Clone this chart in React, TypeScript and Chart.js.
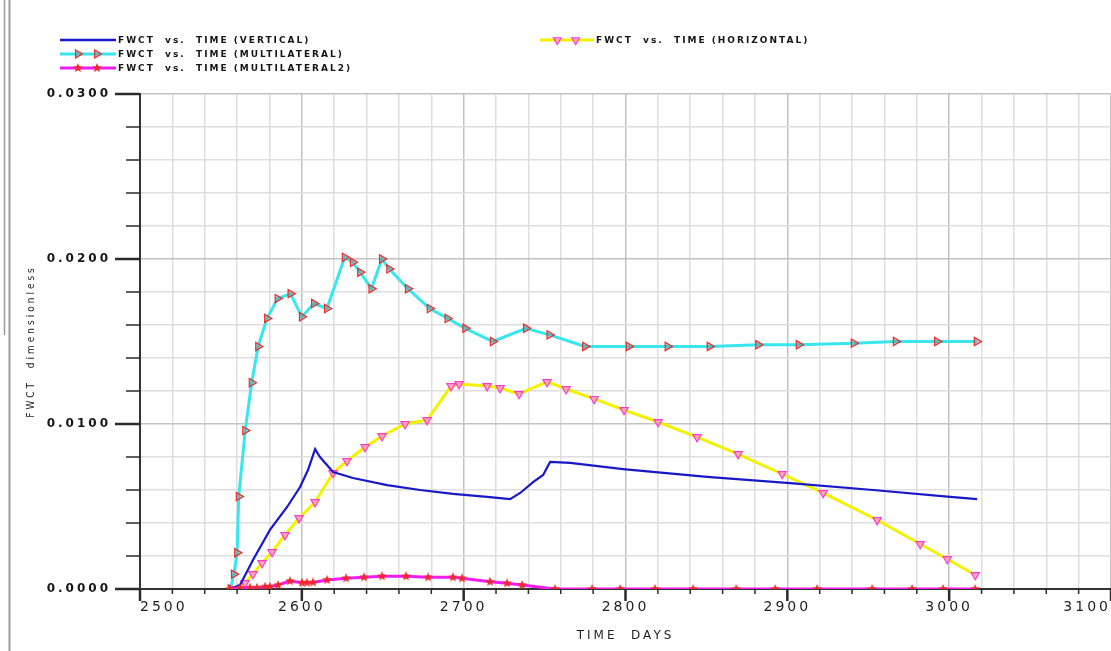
import React, { useEffect, useRef } from 'react';
import { Chart, registerables } from 'chart.js';

Chart.register(...registerables);

// ---- data ----
const seriesLabels = [
  'FWCT  vs.  TIME (VERTICAL)',
  'FWCT  vs.  TIME (MULTILATERAL)',
  'FWCT  vs.  TIME (MULTILATERAL2)',
  'FWCT  vs.  TIME (HORIZONTAL)',
];

const verticalDays = [2555.6, 2561.8, 2569.8, 2580.3, 2590.9, 2598.9, 2603.8, 2608.2, 2611.2, 2619.3, 2631.6, 2652.7, 2673.1, 2693.4, 2714.5, 2728.7, 2734.9, 2742.9, 2749.1, 2753.4, 2765.8, 2798.5, 2850.4, 2901.7, 2953, 3000.6, 3017.3];
const verticalFwct = [0, 0.00024, 0.00176, 0.00358, 0.00497, 0.00618, 0.00721, 0.00848, 0.008, 0.00709, 0.00673, 0.0063, 0.006, 0.00576, 0.00558, 0.00545, 0.00582, 0.00648, 0.00691, 0.0077, 0.00764, 0.00727, 0.00679, 0.00642, 0.006, 0.00558, 0.00545];

const multilateralDays = [2556, 2558, 2560, 2561, 2565, 2569, 2573, 2578.5, 2585, 2593, 2600, 2607.5, 2615.5, 2626.5, 2631.5, 2636, 2643, 2649.5, 2654, 2665.5, 2679, 2690, 2701, 2718, 2738.5, 2753, 2775, 2802, 2826, 2852, 2882, 2907, 2941, 2967, 2992.5, 3017];
const multilateralFwct = [0.0, 0.0009, 0.0022, 0.0056, 0.0096, 0.0125, 0.0147, 0.0164, 0.0176, 0.0179, 0.0165, 0.0173, 0.017, 0.0201, 0.0198, 0.0192, 0.0182, 0.02, 0.0194, 0.0182, 0.017, 0.0164, 0.0158, 0.015, 0.0158, 0.0154, 0.0147, 0.0147, 0.0147, 0.0147, 0.0148, 0.0148, 0.0149, 0.015, 0.015, 0.015];

const multilateral2Days = [2555.6, 2561.8, 2568, 2572.3, 2577.3, 2580.3, 2585.3, 2592.7, 2600.1, 2603.2, 2606.9, 2615.6, 2627.3, 2638.4, 2649.6, 2664.4, 2678, 2693.4, 2699, 2716.3, 2726.8, 2736.1, 2756.5, 2779.4, 2796.7, 2818.3, 2841.8, 2868.4, 2892.5, 2918.4, 2952.4, 2977.1, 2996.3, 3016.1];
const multilateral2Fwct = [0, 0.00006, 0.00008, 0.00008, 0.00014, 0.00014, 0.00024, 0.00048, 0.00038, 0.00038, 0.0004, 0.00055, 0.00065, 0.00071, 0.00077, 0.00077, 0.00071, 0.00071, 0.00065, 0.00044, 0.00035, 0.00024, 0, 0, 0, 0, 0, 0, 0, 0, 0, 0, 0, 0];

const horizontalDays = [2557.5, 2564.9, 2569.8, 2575.4, 2581.6, 2589.6, 2598.3, 2608.2, 2619.3, 2627.9, 2639.1, 2649.6, 2663.8, 2677.4, 2692.2, 2697.2, 2714.5, 2722.5, 2734.2, 2751.5, 2763.3, 2780.6, 2799.1, 2820.1, 2844.2, 2869.6, 2896.8, 2922.1, 2955.5, 2982.1, 2998.8, 3016.1];
const horizontalFwct = [0, 0.00036, 0.00091, 0.00158, 0.00224, 0.00327, 0.0043, 0.00527, 0.00703, 0.00776, 0.0086, 0.00927, 0.01, 0.01024, 0.0123, 0.01242, 0.0123, 0.01218, 0.01182, 0.01255, 0.01212, 0.01152, 0.01085, 0.01012, 0.00921, 0.00818, 0.00697, 0.00582, 0.00418, 0.00273, 0.00182, 0.00085];

const xTickLabels = ['2500', '2600', '2700', '2800', '2900', '3000', '3100'];
const yTickLabels = ['0.0000', '0.0100', '0.0200', '0.0300'];

const X_MIN = 2500;
const X_MAX = 3100;
const Y_MIN = 0;
const Y_MAX = 0.03;

// ---- styles ----
const BLUE = '#1818c8';
const CYAN = '#38e6ee';
const YELLOW = '#f2f200';
const MAGENTA = '#f01cf0';
const RED = '#ee2a2a';
const PINK = '#ff3cc8';

const toPoints = (xs: number[], ys: number[]) => xs.map((x, i) => ({ x, y: ys[i] }));

function makeStar(size: number, color: string) {
  const c = document.createElement('canvas');
  c.width = size;
  c.height = size;
  const g = c.getContext('2d')!;
  const cx = size / 2, cy = size / 2, R = size / 2, r = R * 0.45;
  g.beginPath();
  for (let i = 0; i < 10; i++) {
    const a = -Math.PI / 2 + (i * Math.PI) / 5;
    const rr = i % 2 === 0 ? R : r;
    const px = cx + rr * Math.cos(a);
    const py = cy + rr * Math.sin(a);
    if (i === 0) g.moveTo(px, py);
    else g.lineTo(px, py);
  }
  g.closePath();
  g.fillStyle = color;
  g.fill();
  return c;
}

const isMajorX = (v: number) => Math.abs(v / 100 - Math.round(v / 100)) < 1e-6;
const isMajorY = (v: number) => Math.abs(v * 100 - Math.round(v * 100)) < 1e-6;

function triPath(ctx: CanvasRenderingContext2D, x: number, y: number, r: number, rotDeg: number) {
  let rad = (rotDeg * Math.PI) / 180;
  ctx.beginPath();
  for (let i = 0; i < 3; i++) {
    const px = x + Math.sin(rad) * r;
    const py = y - Math.cos(rad) * r;
    if (i === 0) ctx.moveTo(px, py);
    else ctx.lineTo(px, py);
    rad += (2 * Math.PI) / 3;
  }
  ctx.closePath();
}

export default function App() {
  const ref = useRef<HTMLCanvasElement | null>(null);

  useEffect(() => {
    if (!ref.current) return;
    const star = makeStar(10, RED);

    const decor = {
      id: 'decor',
      beforeDraw(chart: any) {
        chart.ctx.letterSpacing = '3px';
      },
      afterDraw(chart: any) {
        const ctx: CanvasRenderingContext2D = chart.ctx;
        const xs = chart.scales.x;
        const ys = chart.scales.y;
        const area = chart.chartArea;
        ctx.save();
        (ctx as any).letterSpacing = '0px';

        // tick marks (outside the axes)
        ctx.strokeStyle = '#2a2a2a';
        ys.ticks.forEach((t: any) => {
          const y = ys.getPixelForValue(t.value);
          const major = isMajorY(t.value);
          ctx.lineWidth = major ? 2.5 : 1.5;
          ctx.beginPath();
          ctx.moveTo(area.left - (major ? 25 : 14), y);
          ctx.lineTo(area.left, y);
          ctx.stroke();
        });
        xs.ticks.forEach((t: any) => {
          const x = xs.getPixelForValue(t.value);
          const major = isMajorX(t.value);
          ctx.lineWidth = major ? 2.5 : 1.5;
          ctx.beginPath();
          ctx.moveTo(x, area.bottom);
          ctx.lineTo(x, area.bottom + (major ? 12 : 5));
          ctx.stroke();
        });

        // left frame lines
        ctx.strokeStyle = '#9a9a9a';
        ctx.lineWidth = 2;
        ctx.beginPath();
        ctx.moveTo(9.5, 0);
        ctx.lineTo(9.5, 651);
        ctx.stroke();
        ctx.lineWidth = 1.5;
        ctx.beginPath();
        ctx.moveTo(4.5, 0);
        ctx.lineTo(4.5, 335);
        ctx.stroke();

        // legend
        const drawEntry = (x0: number, x1: number, y: number, color: string, width: number, label: string, marker: string) => {
          ctx.strokeStyle = color;
          ctx.lineWidth = width;
          ctx.beginPath();
          ctx.moveTo(x0, y);
          ctx.lineTo(x1, y);
          ctx.stroke();
          const m1 = x0 + (x1 - x0) * 0.32;
          const m2 = x0 + (x1 - x0) * 0.66;
          [m1, m2].forEach((mx) => {
            if (marker === 'right') {
              triPath(ctx, mx, y, 4.5, 90);
              ctx.fillStyle = 'rgba(120,150,150,0.55)';
              ctx.fill();
              ctx.strokeStyle = RED;
              ctx.lineWidth = 1.2;
              ctx.stroke();
            } else if (marker === 'down') {
              triPath(ctx, mx, y, 4.5, 180);
              ctx.fillStyle = 'rgba(255,150,220,0.75)';
              ctx.fill();
              ctx.strokeStyle = PINK;
              ctx.lineWidth = 1.2;
              ctx.stroke();
            } else if (marker === 'star') {
              ctx.drawImage(star, mx - 5, y - 5);
            }
          });
          ctx.fillStyle = '#151515';
          ctx.font = 'bold 9px "DejaVu Sans", sans-serif';
          (ctx as any).letterSpacing = '2px';
          ctx.textAlign = 'left';
          ctx.textBaseline = 'middle';
          ctx.fillText(label, x1 + 2, y + 0.5);
          (ctx as any).letterSpacing = '0px';
        };
        drawEntry(60, 116, 40, BLUE, 2.5, seriesLabels[0], 'none');
        drawEntry(60, 116, 54, CYAN, 3, seriesLabels[1], 'right');
        drawEntry(60, 116, 68, MAGENTA, 3, seriesLabels[2], 'star');
        drawEntry(540, 594, 40, YELLOW, 3, seriesLabels[3], 'down');

        ctx.restore();
      },
    };

    const chart = new Chart(ref.current, {
      type: 'line',
      data: {
        datasets: [
          {
            label: seriesLabels[2],
            data: toPoints(multilateral2Days, multilateral2Fwct),
            borderColor: MAGENTA,
            borderWidth: 3,
            pointStyle: star as any,
            pointRadius: 5,
            tension: 0,
          },
          {
            label: seriesLabels[0],
            data: toPoints(verticalDays, verticalFwct),
            borderColor: BLUE,
            borderWidth: 2.2,
            pointRadius: 0,
            tension: 0,
          },
          {
            label: seriesLabels[3],
            data: toPoints(horizontalDays, horizontalFwct),
            borderColor: YELLOW,
            borderWidth: 3,
            pointStyle: 'triangle',
            rotation: 180,
            pointRadius: 4.8,
            pointBorderColor: PINK,
            pointBackgroundColor: 'rgba(255,150,220,0.75)',
            pointBorderWidth: 1.2,
            tension: 0,
          },
          {
            label: seriesLabels[1],
            data: toPoints(multilateralDays, multilateralFwct),
            borderColor: CYAN,
            borderWidth: 3,
            pointStyle: 'triangle',
            rotation: 90,
            pointRadius: 4.8,
            pointBorderColor: RED,
            pointBackgroundColor: 'rgba(120,150,150,0.55)',
            pointBorderWidth: 1.2,
            tension: 0,
          },
        ],
      },
      options: {
        animation: false,
        responsive: false,
        maintainAspectRatio: false,
        devicePixelRatio: 1,
        parsing: true,
        layout: { autoPadding: false, padding: { top: 94, left: 0, right: 0, bottom: 0 } },
        plugins: {
          legend: { display: false },
          tooltip: { enabled: false },
          title: { display: false },
        },
        scales: {
          x: {
            type: 'linear',
            min: X_MIN,
            max: X_MAX,
            afterFit: (s: any) => {
              s.height = 62;
              s.paddingLeft = 0;
              s.paddingRight = 0;
            },
            ticks: {
              stepSize: 20,
              autoSkip: false,
              maxRotation: 0,
              minRotation: 0,
              align: 'inner',
              padding: 10,
              color: '#1e1e1e',
              font: { family: '"DejaVu Sans", sans-serif', size: 14 },
              callback: (v: any) => {
                const s = String(Math.round(Number(v)));
                return xTickLabels.includes(s) ? s : '';
              },
            },
            grid: {
              drawTicks: false,
              lineWidth: 1.5,
              color: (c: any) => (c.tick && isMajorX(c.tick.value) ? '#c2c2c2' : '#dedede'),
            },
            border: { color: '#333333', width: 2 },
            title: {
              display: true,
              text: 'TIME  DAYS',
              color: '#1e1e1e',
              font: { family: '"DejaVu Sans", sans-serif', size: 12 },
              padding: { top: 0, bottom: 8 },
            },
          },
          y: {
            type: 'linear',
            min: Y_MIN,
            max: Y_MAX,
            afterFit: (s: any) => {
              s.width = 140;
              s.paddingTop = 0;
              s.paddingBottom = 0;
            },
            ticks: {
              stepSize: 0.002,
              autoSkip: false,
              padding: 29,
              color: '#151515',
              font: { family: '"DejaVu Sans", sans-serif', size: 12, weight: 'bold' },
              callback: (v: any) => {
                const s = Number(v).toFixed(4);
                return yTickLabels.includes(s) ? s : '';
              },
            },
            grid: {
              drawTicks: false,
              lineWidth: 1.5,
              color: (c: any) => (c.tick && isMajorY(c.tick.value) ? '#c2c2c2' : '#dedede'),
            },
            border: { color: '#333333', width: 2 },
            title: {
              display: true,
              text: 'FWCT  dimensionless',
              color: '#1e1e1e',
              font: { family: '"Liberation Sans Narrow", "DejaVu Sans Condensed", sans-serif', size: 10 },
              padding: { top: 25, bottom: 0 },
            },
          },
        },
      } as any,
      plugins: [decor],
    });

    return () => {
      chart.destroy();
    };
  }, []);

  return (
    <div style={{ position: 'fixed', left: 0, top: 0, width: 1111, height: 651, background: '#ffffff' }}>
      <canvas ref={ref} width={1111} height={651} style={{ display: 'block', width: 1111, height: 651 }} />
    </div>
  );
}
